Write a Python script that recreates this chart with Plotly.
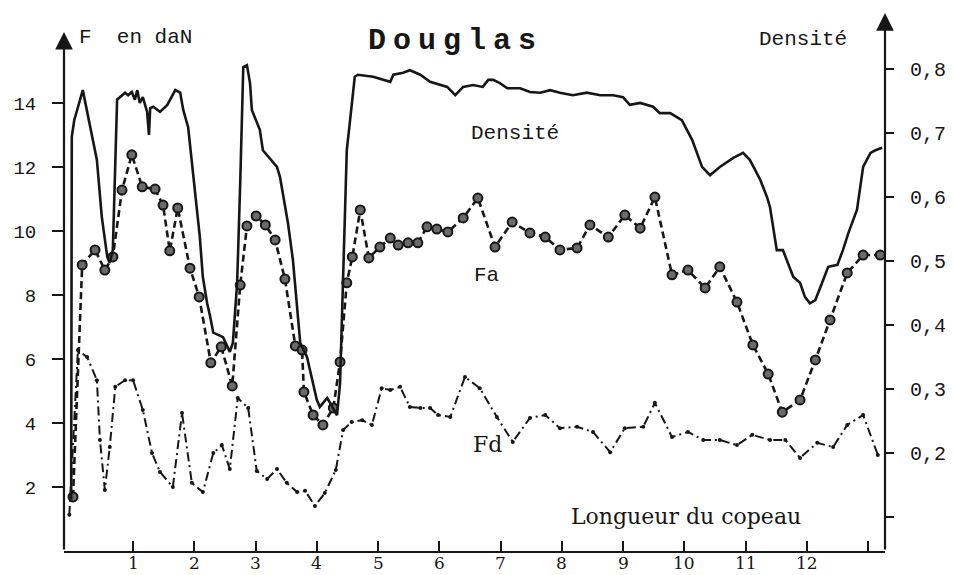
import plotly.graph_objects as go

# ---------------- data ----------------
# Densité (right axis) : (longueur, densité)
density = [(-0.01, 0.127), (0.00, 0.694), (0.04, 0.720), (0.18, 0.767), (0.41, 0.658), (0.49, 0.569),
           (0.58, 0.506), (0.62, 0.497), (0.67, 0.517), (0.74, 0.752), (0.87, 0.763), (0.92, 0.759),
           (0.98, 0.764), (1.03, 0.752), (1.07, 0.767), (1.11, 0.747), (1.16, 0.756), (1.23, 0.733),
           (1.26, 0.697), (1.28, 0.739), (1.33, 0.741), (1.44, 0.733), (1.56, 0.744), (1.69, 0.767),
           (1.77, 0.763), (1.82, 0.736), (1.90, 0.709), (1.96, 0.658), (2.01, 0.611), (2.09, 0.538),
           (2.14, 0.475), (2.21, 0.434), (2.26, 0.413), (2.31, 0.388), (2.47, 0.381), (2.58, 0.358),
           (2.63, 0.372), (2.70, 0.466), (2.75, 0.622), (2.80, 0.803), (2.86, 0.806), (2.91, 0.778),
           (2.94, 0.736), (3.07, 0.705), (3.12, 0.673), (3.35, 0.647), (3.40, 0.631), (3.53, 0.559),
           (3.61, 0.502), (3.68, 0.423), (3.73, 0.372), (3.84, 0.350), (3.94, 0.309), (4.00, 0.283),
           (4.05, 0.272), (4.17, 0.286), (4.22, 0.278), (4.33, 0.259), (4.38, 0.309), (4.43, 0.466),
           (4.49, 0.673), (4.58, 0.752), (4.62, 0.788), (4.67, 0.791), (4.92, 0.788), (5.20, 0.780),
           (5.25, 0.791), (5.41, 0.794), (5.52, 0.798), (5.69, 0.791), (5.85, 0.780), (6.13, 0.772),
           (6.26, 0.759), (6.39, 0.772), (6.55, 0.775), (6.71, 0.772), (6.80, 0.783), (6.88, 0.783),
           (6.99, 0.778), (7.11, 0.770), (7.32, 0.770), (7.48, 0.764), (7.65, 0.763), (7.81, 0.767),
           (7.97, 0.763), (8.18, 0.759), (8.41, 0.763), (8.63, 0.759), (8.84, 0.759), (9.00, 0.756),
           (9.11, 0.744), (9.28, 0.747), (9.49, 0.741), (9.60, 0.731), (9.77, 0.731), (9.96, 0.720),
           (10.13, 0.689), (10.29, 0.647), (10.42, 0.634), (10.58, 0.647), (10.80, 0.661), (10.96, 0.669),
           (11.07, 0.658), (11.24, 0.627), (11.35, 0.600), (11.40, 0.584), (11.51, 0.517), (11.61, 0.517),
           (11.69, 0.497), (11.78, 0.475), (11.89, 0.466), (11.97, 0.444), (12.05, 0.434), (12.14, 0.439),
           (12.25, 0.466), (12.35, 0.491), (12.50, 0.494), (12.59, 0.517), (12.68, 0.544), (12.82, 0.580),
           (12.92, 0.647), (13.04, 0.669), (13.12, 0.673), (13.23, 0.677)]

# Fa (left axis, daN)
fa = [(0.02, 1.69), (0.17, 8.94), (0.38, 9.41), (0.54, 8.78), (0.67, 9.19), (0.82, 11.28), (0.98, 12.38),
      (1.15, 11.38), (1.36, 11.31), (1.49, 10.81), (1.60, 9.38), (1.73, 10.72), (1.93, 8.84), (2.08, 7.94),
      (2.27, 5.88), (2.44, 6.38), (2.62, 5.16), (2.75, 8.31), (2.86, 10.16), (3.01, 10.47), (3.16, 10.19),
      (3.32, 9.72), (3.48, 8.50), (3.65, 6.41), (3.76, 6.28), (3.79, 4.97), (3.94, 4.25), (4.10, 3.94),
      (4.27, 4.47), (4.38, 5.91), (4.49, 8.38), (4.58, 9.19), (4.71, 10.66), (4.85, 9.16), (5.03, 9.50),
      (5.20, 9.78), (5.33, 9.56), (5.49, 9.63), (5.65, 9.63), (5.80, 10.13), (5.96, 10.06), (6.14, 9.97),
      (6.39, 10.41), (6.63, 11.03), (6.91, 9.50), (7.19, 10.28), (7.48, 9.94), (7.73, 9.81), (7.97, 9.41),
      (8.25, 9.47), (8.46, 10.19), (8.76, 9.81), (9.03, 10.50), (9.28, 10.09), (9.52, 11.06), (9.80, 8.63),
      (10.06, 8.78), (10.34, 8.22), (10.58, 8.88), (10.86, 7.78), (11.12, 6.44), (11.37, 5.53), (11.60, 4.34),
      (11.89, 4.72), (12.14, 5.97), (12.38, 7.22), (12.66, 8.69), (12.92, 9.25), (13.20, 9.25)]

# Fd (left axis, daN)
fd = [(-0.04, 1.13), (0.10, 6.28), (0.25, 6.06), (0.41, 5.34), (0.46, 3.47), (0.54, 1.91), (0.62, 3.25),
      (0.71, 5.13), (0.87, 5.34), (1.00, 5.34), (1.16, 4.41), (1.31, 3.06), (1.44, 2.47), (1.65, 2.00),
      (1.80, 4.31), (1.96, 2.13), (2.14, 1.84), (2.31, 3.06), (2.45, 3.31), (2.58, 2.56), (2.71, 4.78),
      (2.88, 4.47), (3.02, 2.50), (3.19, 2.25), (3.35, 2.56), (3.51, 2.13), (3.68, 1.84), (3.81, 1.88),
      (3.97, 1.41), (4.13, 1.81), (4.31, 2.53), (4.43, 3.78), (4.57, 4.03), (4.74, 4.09), (4.90, 3.94),
      (5.06, 5.09), (5.20, 5.03), (5.36, 5.13), (5.52, 4.50), (5.69, 4.47), (5.85, 4.47), (5.98, 4.25),
      (6.18, 4.19), (6.42, 5.44), (6.66, 5.09), (6.94, 4.19), (7.20, 3.41), (7.48, 4.16), (7.73, 4.25),
      (7.97, 3.84), (8.25, 3.88), (8.51, 3.72), (8.79, 3.09), (9.03, 3.84), (9.33, 3.88), (9.52, 4.63),
      (9.80, 3.56), (10.06, 3.72), (10.31, 3.47), (10.58, 3.47), (10.86, 3.31), (11.11, 3.63), (11.40, 3.47),
      (11.65, 3.47), (11.89, 2.91), (12.17, 3.38), (12.43, 3.25), (12.66, 3.94), (12.92, 4.25), (13.16, 3.00)]

x_tickvals = [1, 2, 3, 4, 5, 6, 7, 8, 9, 10, 11, 12, 13]
x_ticktext = ["1", "2", "3", "4", "5", "6", "7", "8", "9", "10", "11", "12", ""]
f_tickvals = [2, 4, 6, 8, 10, 12, 14]
f_ticktext = ["2", "4", "6", "8", "10", "12", "14"]
d_tickvals = [0.1, 0.2, 0.3, 0.4, 0.5, 0.6, 0.7, 0.8]
d_ticktext = ["", "0,2", "0,3", "0,4", "0,5", "0,6", "0,7", "0,8"]

X_RANGE = [-0.127, 13.277]
F_RANGE = [0, 16.97]
D_RANGE = [0.0469, 0.8953]
F_ARROW_TOP = 16.22
D_ARROW_TOP = 16.81

# ---------------- layout helpers ----------------
# the page body has an 8px margin, so the figure is drawn 8px smaller and positions are shifted
OFF = 8
W, H = 946, 567
ML, MR, MT, MB = 56, 69, 0, 24
INK = "#161616"
MONO = "Liberation Mono, Courier New, monospace"
SERIF = "DejaVu Serif, serif"


def px(xs):
    return (xs - OFF - ML) / (W - ML - MR)


def py(ys):
    return (H - MB - (ys - OFF)) / (H - MB - MT)


fig = go.Figure()

fig.add_trace(go.Scatter(
    x=[p[0] for p in density], y=[p[1] for p in density], yaxis="y2",
    mode="lines", line=dict(color=INK, width=2.6), hoverinfo="skip"))

fig.add_trace(go.Scatter(
    x=[p[0] for p in fa], y=[p[1] for p in fa],
    mode="lines+markers", line=dict(color=INK, width=2.6, dash="7px,4px"),
    marker=dict(symbol="circle", size=9, color="#6a6a6a", line=dict(color=INK, width=2)),
    hoverinfo="skip"))

fig.add_trace(go.Scatter(
    x=[p[0] for p in fd], y=[p[1] for p in fd],
    mode="lines+markers", line=dict(color=INK, width=2, dash="9px,4px,2px,4px"),
    marker=dict(symbol="circle", size=4, color=INK),
    hoverinfo="skip"))

annotations = [
    # axis arrows
    dict(x=X_RANGE[0], y=F_ARROW_TOP, ax=X_RANGE[0], ay=0, xref="x", yref="y", axref="x", ayref="y",
         showarrow=True, arrowhead=2, arrowsize=1.6, arrowwidth=2.2, arrowcolor=INK, text=""),
    dict(x=X_RANGE[1], y=D_ARROW_TOP, ax=X_RANGE[1], ay=0, xref="x", yref="y", axref="x", ayref="y",
         showarrow=True, arrowhead=2, arrowsize=1.6, arrowwidth=2.2, arrowcolor=INK, text=""),
    # texts
    dict(x=px(77), y=py(38), xref="paper", yref="paper", xanchor="left", yanchor="middle",
         text="F\u00a0\u00a0en daN", showarrow=False, font=dict(family=MONO, size=21, color=INK)),
    dict(x=px(455), y=py(41), xref="paper", yref="paper", xanchor="center", yanchor="middle",
         text='<span style="letter-spacing:7px">Douglas</span>', showarrow=False,
         font=dict(family=MONO, size=30, color=INK, weight="bold")),
    dict(x=px(757), y=py(40), xref="paper", yref="paper", xanchor="left", yanchor="middle",
         text="Densité", showarrow=False, font=dict(family=MONO, size=21, color=INK)),
    dict(x=px(469), y=py(134), xref="paper", yref="paper", xanchor="left", yanchor="middle",
         text="Densité", showarrow=False, font=dict(family=MONO, size=21, color=INK)),
    dict(x=px(472), y=py(275), xref="paper", yref="paper", xanchor="left", yanchor="middle",
         text="Fa", showarrow=False, font=dict(family=MONO, size=21, color=INK)),
    dict(x=px(471), y=py(444), xref="paper", yref="paper", xanchor="left", yanchor="middle",
         text="Fd", showarrow=False, font=dict(family=SERIF, size=22, color=INK)),
    dict(x=px(569), y=py(517), xref="paper", yref="paper", xanchor="left", yanchor="middle",
         text="Longueur du copeau", showarrow=False, font=dict(family=SERIF, size=22, color=INK)),
]

# x tick labels placed as text just under the axis (kept inside the page)
for v, t in zip(x_tickvals, x_ticktext):
    if t:
        annotations.append(dict(x=v, y=py(563), xref="x", yref="paper", xanchor="center",
                                yanchor="middle", text=t, showarrow=False, borderpad=0,
                                font=dict(family=SERIF, size=17, color=INK)))

fig.update_layout(
    width=W, height=H,
    margin=dict(l=ML, r=MR, t=MT, b=MB, autoexpand=False),
    paper_bgcolor="white", plot_bgcolor="white",
    showlegend=False,
    annotations=annotations,
    xaxis=dict(range=X_RANGE, showgrid=False, zeroline=False, showline=True,
               linecolor=INK, linewidth=2, ticks="inside", ticklen=10, tickwidth=2, tickcolor=INK,
               tickvals=x_tickvals, showticklabels=False),
    yaxis=dict(range=F_RANGE, showgrid=False, zeroline=False, showline=False,
               ticks="outside", ticklen=11, tickwidth=2, tickcolor=INK,
               tickvals=f_tickvals, ticktext=f_ticktext, ticklabelstandoff=12,
               tickfont=dict(family=MONO, size=19, color=INK)),
    yaxis2=dict(range=D_RANGE, overlaying="y", side="right", showgrid=False, zeroline=False,
                showline=False, ticks="outside", ticklen=8, tickwidth=2, tickcolor=INK,
                tickvals=d_tickvals, ticktext=d_ticktext, ticklabelstandoff=12,
                tickfont=dict(family=MONO, size=20, color=INK)),
)

fig.write_html("out.html")
